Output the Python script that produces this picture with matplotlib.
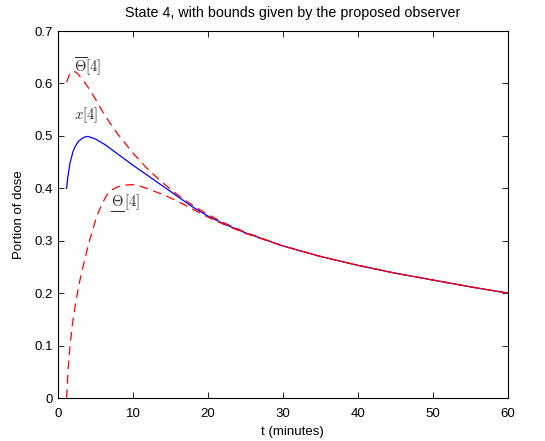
import matplotlib
matplotlib.use("Agg")
import matplotlib.pyplot as plt
from matplotlib.lines import Line2D

plt.rcParams['font.family'] = ['Liberation Sans', 'DejaVu Sans']
plt.rcParams['mathtext.fontset'] = 'cm'

# state x[4] and the observer bounds
t_x = [1.15, 1.3, 1.6, 2, 2.3, 2.7, 3.2, 3.6, 4, 5, 6.3, 8, 10, 12, 14, 16, 18, 20, 22, 25,
       30, 35, 40, 45, 50, 55, 60]
x4 = [0.400, 0.420, 0.448, 0.470, 0.480, 0.489, 0.495, 0.498, 0.499, 0.494, 0.483, 0.465,
      0.444, 0.424, 0.404, 0.384, 0.364, 0.347, 0.333, 0.315, 0.290, 0.270, 0.253, 0.238,
      0.225, 0.212, 0.200]

t_up = [1.15, 1.5, 1.8, 2.2, 2.6, 3, 3.5, 4, 5, 5.4, 6, 7, 7.6, 8, 9, 10, 12, 14, 16, 18, 20,
        22, 25, 30, 35, 40, 45, 50, 55, 60]
upper = [0.602, 0.616, 0.622, 0.623, 0.619, 0.612, 0.603, 0.593, 0.570, 0.560, 0.545, 0.523,
         0.511, 0.503, 0.485, 0.467, 0.436, 0.410, 0.387, 0.367, 0.350, 0.335, 0.316, 0.290,
         0.270, 0.253, 0.238, 0.225, 0.212, 0.200]

t_lo = [1.15, 1.35, 1.6, 1.9, 2.27, 2.6, 2.93, 3.5, 4, 4.5, 5.16, 5.8, 6.5, 7.2, 8, 8.9, 10,
        11, 12, 14, 16, 18, 20, 22, 25, 30, 35, 40, 45, 50, 55, 60]
lower = [0.0, 0.055, 0.098, 0.138, 0.174, 0.201, 0.225, 0.260, 0.289, 0.315, 0.346, 0.368,
         0.387, 0.397, 0.403, 0.406, 0.407, 0.404, 0.399, 0.388, 0.375, 0.360, 0.345, 0.332,
         0.314, 0.290, 0.270, 0.253, 0.238, 0.225, 0.212, 0.200]

fig = plt.figure(figsize=(5.45, 4.41), dpi=100)
ax = fig.add_axes([0.1064, 0.0975, 0.8256, 0.8322])

ax.plot(t_x, x4, color='#0000ff', lw=0.9)
ax.plot(t_up, upper, color='#ff0000', lw=0.9, dashes=(7, 4.5))
ax.plot(t_lo, lower, color='#ff0000', lw=0.9, dashes=(7, 4.5))

lab_col = '#333333'
fs = 10.5
ax.text(2.1, 0.621, r'$\overline{\Theta}[4]$', fontsize=fs, color=lab_col, va='baseline')
ax.text(2.1, 0.532, r'$x[4]$', fontsize=fs, color=lab_col, va='baseline')
# mathtext has no \underline: Theta and [4] are set apart and the bar drawn by hand
theta = ax.text(7.07, 0.366, r'$\Theta$', fontsize=fs, color=lab_col, va='baseline')
ax.annotate(r'$[4]$', xy=(1, 0), xycoords=theta, fontsize=fs, color=lab_col,
            va='bottom', ha='left', xytext=(0, -2.2), textcoords='offset points')

ax.set_xlim(0, 60)
ax.set_ylim(0, 0.7)
ax.set_xticks([0, 10, 20, 30, 40, 50, 60])
ax.set_yticks([0, 0.1, 0.2, 0.3, 0.4, 0.5, 0.6, 0.7])
ax.set_yticklabels(['0', '0.1', '0.2', '0.3', '0.4', '0.5', '0.6', '0.7'])
ax.tick_params(direction='in', top=True, right=True, labelsize=9.5, length=4, width=0.6)
ax.tick_params(axis='x', pad=7.5)
ax.tick_params(axis='y', pad=3.5)
for s in ax.spines.values():
    s.set_linewidth(0.8)

fig.text(293 / 545, 1 - 13.5 / 441, 'State 4, with bounds given by the proposed observer',
         fontsize=10.3, ha='center', va='center')
ax.set_xlabel('t (minutes)', fontsize=9.5)
ax.xaxis.set_label_coords(0.522, -0.075)
ax.set_ylabel('Portion of dose', fontsize=9.5)
ax.yaxis.set_label_coords(-0.073, 0.5)

fig.canvas.draw()
bb = theta.get_window_extent()
fig.add_artist(Line2D([bb.x0, bb.x1], [bb.y0 - 2, bb.y0 - 2], transform=None,
                      color=lab_col, lw=0.8))

fig.savefig('out.png', dpi=100)
